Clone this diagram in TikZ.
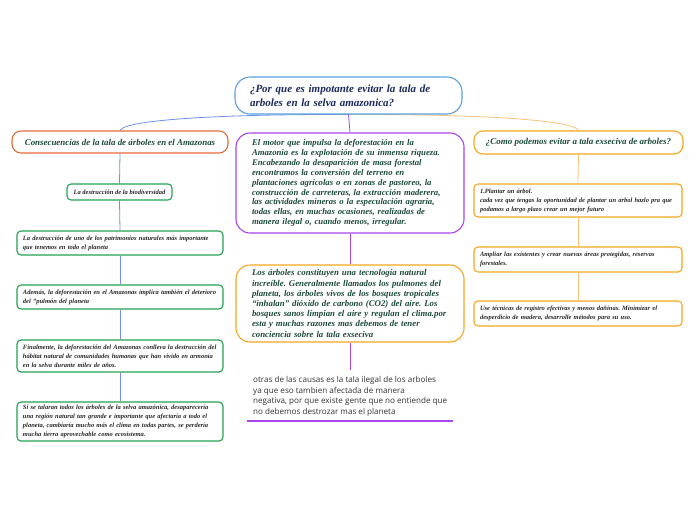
\documentclass[tikz,border=0pt]{standalone}
\usepackage{fontspec}
\usetikzlibrary{backgrounds}
\setmainfont{Liberation Serif}
\newfontfamily\opensans{Open Sans}
\frenchspacing
\definecolor{mblue}{HTML}{5AA0E0}
\definecolor{lblue}{HTML}{6F8FF0}
\definecolor{navy}{HTML}{1B2A5A}
\definecolor{dgreen}{HTML}{1C4A3A}
\definecolor{redor}{HTML}{E8693A}
\definecolor{bgreen}{HTML}{22A050}
\definecolor{purp}{HTML}{A845EE}
\definecolor{oran}{HTML}{F5A623}
\definecolor{loran}{HTML}{F8C27A}
\definecolor{tgray}{HTML}{333333}
\tikzset{
  box/.style={draw, fill=white, line width=1.1pt, align=left, inner ysep=2pt},
  titlebox/.style={box, draw=mblue, rounded corners=15pt, text=navy, inner xsep=15pt,
    text width=197pt, font=\frenchspacing\bfseries\itshape\fontsize{11}{14}\selectfont},
  headbox/.style={box, rounded corners=9pt, text=dgreen, align=center,
    font=\frenchspacing\bfseries\itshape\fontsize{8.9}{10}\selectfont},
  bigbox/.style={box, rounded corners=14pt, text=dgreen, inner xsep=16pt, text width=196pt},
  smallbox/.style={box, rounded corners=4pt, text=black!85, inner xsep=6pt,
    font=\frenchspacing\bfseries\itshape\fontsize{6.5}{9}\selectfont},
  plaintext/.style={align=left, text=tgray, inner sep=0pt,
    font=\frenchspacing\opensans\fontsize{8.1}{10.8}\selectfont},
  conn/.style={line width=0.8pt}
}
\begin{document}
\begin{tikzpicture}[x=1pt,y=-1pt]
\useasboundingbox (0,0) rectangle (696,520);

% nodes
\node[titlebox, minimum width=227pt, minimum height=37pt] (main) at (348.5,95.5)
  {\mbox{¿Por que es impotante evitar la tala de}\\\mbox{arboles en la selva amazonica?}};

\node[headbox, draw=redor, minimum width=216pt, minimum height=22pt] (lh) at (120,142)
  {Consecuencias de la tala de árboles en el Amazonas};
\node[headbox, draw=oran, minimum width=209pt, minimum height=23pt,
  font=\frenchspacing\bfseries\itshape\fontsize{9}{10}\selectfont] (rh) at (578.5,142.5)
  {¿Como podemos evitar a tala exseciva de arboles?};

\node[bigbox, draw=purp, minimum width=228pt, minimum height=100pt,
  font=\frenchspacing\bfseries\itshape\fontsize{8.7}{9.9}\selectfont] (c1) at (350,183)
  {\mbox{El motor que impulsa la deforestación en la}\\
   \mbox{Amazonia es la explotación de su inmensa riqueza.}\\
   \mbox{Encabezando la desaparición de masa forestal}\\
   \mbox{encontramos la conversión del terreno en}\\
   \mbox{plantaciones agrícolas o en zonas de pastoreo, la}\\
   \mbox{construcción de carreteras, la extracción maderera,}\\
   \mbox{las actividades mineras o la especulación agraria,}\\
   \mbox{todas ellas, en muchas ocasiones, realizadas de}\\
   \mbox{manera ilegal o, cuando menos, irregular.}};

\node[bigbox, draw=oran, minimum width=228pt, minimum height=77pt,
  font=\frenchspacing\bfseries\itshape\fontsize{8.8}{10.2}\selectfont] (c2) at (350,303.5)
  {\mbox{Los árboles constituyen una tecnología natural}\\
   \mbox{increíble. Generalmente llamados los pulmones del}\\
   \mbox{planeta, los árboles vivos de los bosques tropicales}\\
   \mbox{“inhalan” dióxido de carbono (CO2) del aire. Los}\\
   \mbox{bosques sanos limpian el aire y regulan el clima.por}\\
   \mbox{esta y muchas razones mas debemos de tener}\\
   \mbox{conciencia sobre la tala exseciva}};

\node[plaintext, anchor=north west] (c3) at (253,376)
  {otras de las causas es la tala ilegal de los arboles\\
   ya que eso tambien afectada de manera\\
   negativa, por que existe gente que no entiende que\\
   no debemos destrozar mas el planeta};
\coordinate (ulA) at (247,421);
\coordinate (ulB) at (453,421);
\coordinate (c3top) at (350,370);

% left column
\node[smallbox, draw=bgreen, minimum width=105pt, minimum height=16pt, inner xsep=3pt] (l1) at (119.5,192)
  {La destrucción de la biodiversidad};
\node[smallbox, draw=bgreen, minimum width=206pt, minimum height=24pt, text width=194pt] (l2) at (120,243)
  {\mbox{La destrucción de uno de los patrimonios naturales más importante}\\
   \mbox{que tenemos en todo el planeta}};
\node[smallbox, draw=bgreen, minimum width=206pt, minimum height=24pt, text width=194pt] (l3) at (120,297)
  {\mbox{Además, la deforestación en el Amazonas implica también el deterioro}\\
   \mbox{del "pulmón del planeta}};
\node[smallbox, draw=bgreen, minimum width=206pt, minimum height=32pt, text width=194pt] (l4) at (120,356)
  {\mbox{Finalmente, la deforestación del Amazonas conlleva la destrucción del}\\
   \mbox{hábitat natural de comunidades humanas que han vivido en armonía}\\
   \mbox{en la selva durante miles de años.}};
\node[smallbox, draw=bgreen, minimum width=206pt, minimum height=39pt, text width=194pt] (l5) at (120,421.5)
  {\mbox{Si se talaran todos los árboles de la selva amazónica, desaparecería}\\
   \mbox{una región natural tan grande e importante que afectaría a todo el}\\
   \mbox{planeta, cambiaría mucho más el clima en todas partes, se perdería}\\
   \mbox{mucha tierra aprovechable como ecosistema.}};

% right column
\node[smallbox, draw=oran, minimum width=208pt, minimum height=33pt, text width=196pt] (r1) at (578,200.5)
  {\mbox{1.Plantar un árbol.}\\
   \mbox{cada vez que tengas la oportunidad de plantar un arbol hazlo pra que}\\
   \mbox{podamos a largo plazo crear un mejor futuro}};
\node[smallbox, draw=oran, minimum width=208pt, minimum height=25pt, text width=196pt] (r2) at (578,259.5)
  {\mbox{Ampliar las existentes y crear nuevas áreas protegidas, reservas}\\
   \mbox{forestales.}};
\node[smallbox, draw=oran, minimum width=208pt, minimum height=25pt, text width=196pt] (r3) at (578,313.5)
  {\mbox{Use técnicas de registro efectivas y menos dañinas. Minimizar el}\\
   \mbox{desperdicio de madera, desarrolle métodos para su uso.}};

% connectors (behind boxes)
\begin{pgfonlayer}{background}
\fill[white] (0,0) rectangle (696,520);
\draw[conn, draw=lblue] (main.south) .. controls (250,114) and (126,118) .. (lh.north);
\draw[conn, draw=loran] (main.south) .. controls (447,114) and (572,118) .. (rh.north);
\draw[conn, draw=purp] (main.south) -- (c1.north);
\draw[conn, draw=purp] (c1.south) -- (c2.north);
\draw[conn, draw=purp] (c2.south) -- (c3top);
\draw[line width=1.1pt, draw=purp] (ulA) -- (ulB);

\draw[conn, draw=lblue] (lh.south) -- (l1.north);
\draw[conn, draw=lblue] (l1.south) -- (l2.north);
\draw[conn, draw=lblue] (l2.south) -- (l3.north);
\draw[conn, draw=lblue] (l3.south) -- (l4.north);
\draw[conn, draw=lblue] (l4.south) -- (l5.north);

\draw[conn, draw=loran] (rh.south) -- (r1.north);
\draw[conn, draw=loran] (r1.south) -- (r2.north);
\draw[conn, draw=loran] (r2.south) -- (r3.north);
\end{pgfonlayer}
\end{tikzpicture}
\end{document}
